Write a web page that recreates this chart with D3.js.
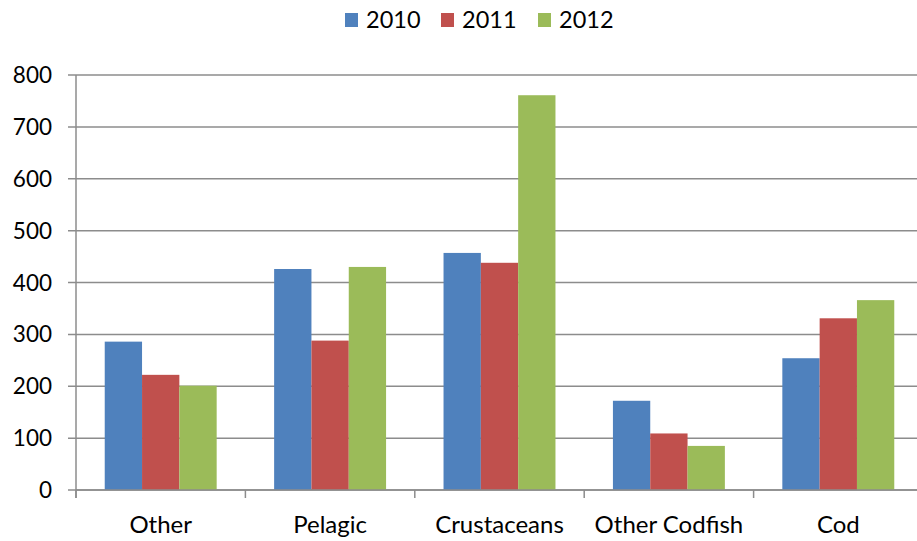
<!DOCTYPE html>
<html><head><meta charset="utf-8">
<script src="https://cdn.jsdelivr.net/npm/d3@7"></script>
<style>body{margin:0;background:#fff}svg{display:block}text{font-family:Lato,"Open Sans",sans-serif;fill:#000}</style>
</head><body><svg id="c" width="917" height="541"></svg>
<script>
const categories = ["Other","Pelagic","Crustaceans","Other Codfish","Cod"];
const seriesNames = ["2010","2011","2012"];
const values2010 = [286, 426, 457, 172, 254];
const values2011 = [222, 288, 438, 109, 331];
const values2012 = [201, 430, 761, 85, 366];
const yTicks = [0,100,200,300,400,500,600,700,800];
const colors = ["#4F81BD","#C0504D","#9BBB59"];

const series = [values2010, values2011, values2012];
const svg = d3.select("#c");
const pLeft = 76, pRight = 923, pTop = 75, pBottom = 490;
const x = d3.scaleBand().domain(categories).range([pLeft, pRight]).paddingInner(0).paddingOuter(0);
const y = d3.scaleLinear().domain([0, 800]).range([pBottom, pTop]);
const grid = "#8c8c8c";

// gridlines
svg.append("g").selectAll("line").data(yTicks).join("line")
  .attr("x1", pLeft - 8).attr("x2", pRight).attr("y1", d => y(d)).attr("y2", d => y(d))
  .attr("stroke", grid).attr("stroke-width", 1.5);
// y axis line
svg.append("line").attr("x1", pLeft).attr("x2", pLeft).attr("y1", pTop).attr("y2", pBottom + 8)
  .attr("stroke", grid).attr("stroke-width", 1.5);
// y labels
svg.append("g").selectAll("text").data(yTicks).join("text")
  .attr("x", 52).attr("y", d => y(d)).attr("dy", "0.36em").attr("text-anchor", "end")
  .attr("font-size", 22.5).text(d => d);

// bars
const inner = d3.scaleBand().domain(seriesNames).range([0, x.bandwidth()]).paddingOuter(0.77).paddingInner(0);
series.forEach((vals, si) => {
  svg.append("g").selectAll("rect").data(vals).join("rect")
    .attr("x", (d, i) => x(categories[i]) + inner(seriesNames[si]))
    .attr("width", inner.bandwidth())
    .attr("y", d => y(d)).attr("height", d => y(0) - y(d))
    .attr("fill", colors[si]);
});

// x axis line + ticks
svg.append("line").attr("x1", pLeft).attr("x2", pRight).attr("y1", pBottom).attr("y2", pBottom)
  .attr("stroke", grid).attr("stroke-width", 1.5);
svg.append("g").selectAll("line").data(categories).join("line")
  .attr("x1", d => x(d)).attr("x2", d => x(d)).attr("y1", pBottom).attr("y2", pBottom + 8)
  .attr("stroke", grid).attr("stroke-width", 1.5);
svg.append("g").selectAll("text").data(categories).join("text")
  .attr("x", d => x(d) + x.bandwidth() / 2).attr("y", 533).attr("text-anchor", "middle")
  .attr("font-size", 24).text(d => d);

// legend
const legX = [345, 441, 538];
const lg = svg.append("g");
seriesNames.forEach((s, i) => {
  lg.append("rect").attr("x", legX[i]).attr("y", 13).attr("width", 13).attr("height", 14).attr("fill", colors[i]);
  lg.append("text").attr("x", legX[i] + 21).attr("y", 28).attr("font-size", 23.5).text(s);
});
</script></body></html>
